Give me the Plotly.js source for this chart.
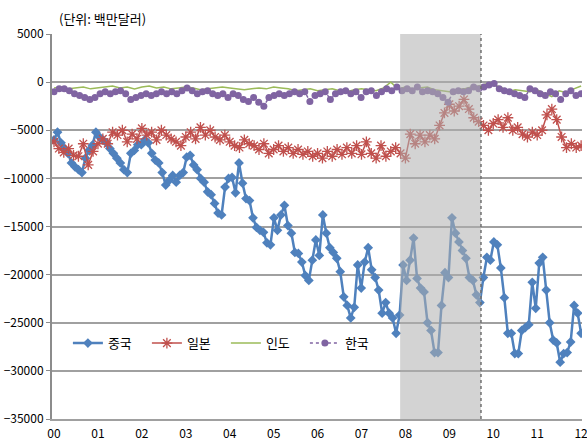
<!DOCTYPE html>
<html><head><meta charset="utf-8">
<script src="https://cdn.plot.ly/plotly-3.0.1.min.js"></script>
<style>html,body{margin:0;padding:0;background:#fff}</style>
</head><body>
<div id="chart" style="width:587px;height:441px"></div>
<script>
// ---- data (백만달러) ----
const yearTicks = [2000,2001,2002,2003,2004,2005,2006,2007,2008,2009,2010,2011,2012];
const yearLabels = ['00','01','02','03','04','05','06','07','08','09','10','11','12'];
const seriesNames = ['중국','일본','인도','한국'];
const startYear = 2000, endYear = 2012;
const shadeStart = 2007.88, shadeEnd = 2009.72;

const china = [-6000,-5200,-6300,-6900,-7400,-8400,-8800,-9100,-9400,-7900,
-7100,-6550,-5200,-5700,-6000,-6300,-6900,-7400,-7900,-8400,
-9100,-9400,-7400,-7100,-6500,-6500,-6000,-6300,-7400,-8100,
-8400,-9400,-10700,-10200,-9700,-10400,-9700,-9400,-7800,-7600,
-8600,-9100,-10000,-10400,-11400,-11700,-12600,-13600,-13800,-10900,
-10000,-9900,-11500,-8400,-10500,-12100,-12300,-14100,-15100,-15400,
-15600,-16700,-16900,-14100,-15400,-13800,-12800,-14900,-15700,-17700,
-17800,-18700,-20100,-20600,-18500,-16400,-18000,-13800,-15700,-17200,
-17700,-18300,-19700,-22300,-23200,-24500,-23400,-19000,-21400,-18700,
-17200,-19500,-20300,-21600,-24000,-22900,-24000,-24500,-26100,-24200,
-19000,-20600,-18500,-16200,-20400,-21400,-21800,-25000,-25800,-28100,
-28100,-23200,-19800,-20300,-14100,-15700,-16600,-17500,-18300,-20300,
-20600,-22100,-22900,-20300,-18200,-18500,-16600,-16900,-19300,-22400,
-26100,-26100,-28200,-28200,-25800,-25500,-25200,-20800,-23500,-18800,
-18200,-21600,-25000,-26800,-27100,-29100,-28200,-28100,-27000,-23200,
-24000,-26100];

const japan = [-6200,-6900,-7300,-6900,-7600,-7700,-6400,-8600,-7200,-6400,
-5900,-6400,-5200,-5500,-5000,-6200,-5400,-5900,-4800,-5500,
-5200,-6000,-5000,-5500,-5900,-6200,-6600,-5700,-5200,-5900,
-4700,-5500,-5000,-5700,-6000,-5500,-6200,-6600,-6800,-6000,
-6400,-6600,-7000,-6400,-7400,-7000,-6600,-7200,-6800,-7400,
-7000,-7500,-7200,-7700,-7400,-7900,-7200,-7700,-7000,-7500,
-6800,-7400,-6600,-7500,-6200,-7400,-7900,-6600,-7700,-7200,
-6800,-7400,-7900,-5400,-6400,-5500,-6200,-5500,-5900,-4500,
-3200,-2300,-3000,-2500,-1800,-2800,-3700,-4100,-4500,-5000,
-4300,-3900,-4700,-3700,-5000,-4700,-5400,-5700,-5200,-5500,
-5000,-3400,-2800,-3900,-5700,-6800,-6400,-6800,-6600];

const india = [-600,-500,-700,-600,-500,-700,
-600,-500,-400,-600,-500,-700,
-500,-400,-600,-500,-700,-600,
-500,-600,-800,-700,-600,-500,
-600,-700,-800,-700,-600,-700,
-500,-600,-700,-900,-800,-700,
-900,-800,-700,-900,-1000,-800,
-700,-800,-900,-600,0,-700,
-500,-700,-600,-500,-800,-900,
-1000,-800,-700,-500,-400,-200,
-300,-500,-1000,-800,-900,-1000,
-800,-1200,-1500,-900,-1100,-700,
-400];

const korea = [-1000,-700,-700,-900,-1200,-1400,-1600,-1800,-1600,-1200,
-1000,-1200,-1000,-900,-1200,-1800,-1600,-1400,-1200,-1400,
-1200,-1000,-1200,-1000,-1200,-900,-600,-900,-1200,-1000,
-900,-1200,-1400,-1200,-1600,-1200,-1400,-1800,-2000,-1600,
-2100,-2500,-1600,-1400,-1200,-1400,-1200,-1000,-1200,-1000,
-2000,-1400,-1200,-1000,-1800,-1200,-1000,-900,-1200,-1000,
-1600,-1000,-900,-1400,-1000,-700,-900,-500,-900,-700,
-900,-500,-1000,-900,-1000,-1200,-1600,-2100,-1000,-900,
-1000,-900,-500,-700,-500,-300,-150,-700,-900,-1000,
-1200,-1400,-1600,-700,-900,-1200,-1400,-1000,-1200,-1800,
-1200,-900,-1400,-1200];

// positions: series observations evenly spread over the period
function spread(n){ const a=[]; for(let i=0;i<n;i++) a.push(startYear+(endYear-startYear)*i/(n-1)); return a; }

const FONT = 'Noto Sans CJK KR, sans-serif';

const traces = [
  {x: spread(china.length), y: china, name: seriesNames[0], type:'scatter', mode:'lines+markers',
   line:{color:'#4F81BD', width:2.5}, marker:{symbol:'diamond', size:7.5, color:'#4F81BD'}},
  {x: spread(japan.length), y: japan, name: seriesNames[1], type:'scatter', mode:'lines+markers',
   line:{color:'#C0504D', width:1.5}, marker:{symbol:'asterisk', size:9, color:'#C0504D', line:{color:'#C0504D', width:1.3}}},
  {x: spread(india.length), y: india, name: seriesNames[2], type:'scatter', mode:'lines',
   line:{color:'#9BBB59', width:1.5}},
  {x: spread(korea.length), y: korea, name: seriesNames[3], type:'scatter', mode:'lines+markers',
   line:{color:'#8064A2', width:1.5, dash:'dot'}, marker:{symbol:'circle', size:7, color:'#8064A2'}}
];

const layout = {
  width:587, height:441,
  margin:{l:52, r:5, t:34, b:22},
  paper_bgcolor:'#fff', plot_bgcolor:'#fff',
  font:{family:FONT, size:12, color:'#000'},
  title:{text:'(단위: 백만달러)', font:{family:FONT, size:13, color:'#000'},
         x:59/587, xref:'container', xanchor:'left', y:1-19/441, yref:'container', yanchor:'middle'},
  showlegend:true,
  legend:{orientation:'h', x:0.03, xanchor:'left', y:0.197, yanchor:'middle',
          bgcolor:'rgba(0,0,0,0)', font:{family:FONT, size:13}, itemwidth:30,
          entrywidth:34, entrywidthmode:'pixels'},
  xaxis:{range:[1999.954, 2012.02], tickvals:yearTicks, ticktext:yearLabels, showgrid:false,
         zeroline:false, showline:true, linecolor:'#a0a0a0', linewidth:2, ticks:'',
         ticklabelstandoff:3, ticklabeloverflow:'allow', tickfont:{family:FONT, size:12}},
  yaxis:{range:[-35000, 5000], dtick:5000, tickformat:'d', showgrid:true, gridcolor:'#a0a0a0', gridwidth:2,
         zeroline:false, showline:true, linecolor:'#8c8c8c', linewidth:2, ticks:'outside', ticklen:4,
         tickcolor:'#8c8c8c', tickfont:{family:FONT, size:12}},
  shapes:[
    {type:'rect', xref:'x', yref:'paper', x0:shadeStart, x1:shadeEnd, y0:0, y1:1,
     fillcolor:'rgba(175,175,175,0.55)', line:{width:0}, layer:'above'},
    {type:'line', xref:'x', yref:'paper', x0:shadeEnd, x1:shadeEnd, y0:0, y1:1,
     line:{color:'#707070', width:1.5, dash:'dot'}, layer:'above'}
  ]
};

Plotly.newPlot('chart', traces, layout, {staticPlot:true, displayModeBar:false});
</script>
</body></html>
